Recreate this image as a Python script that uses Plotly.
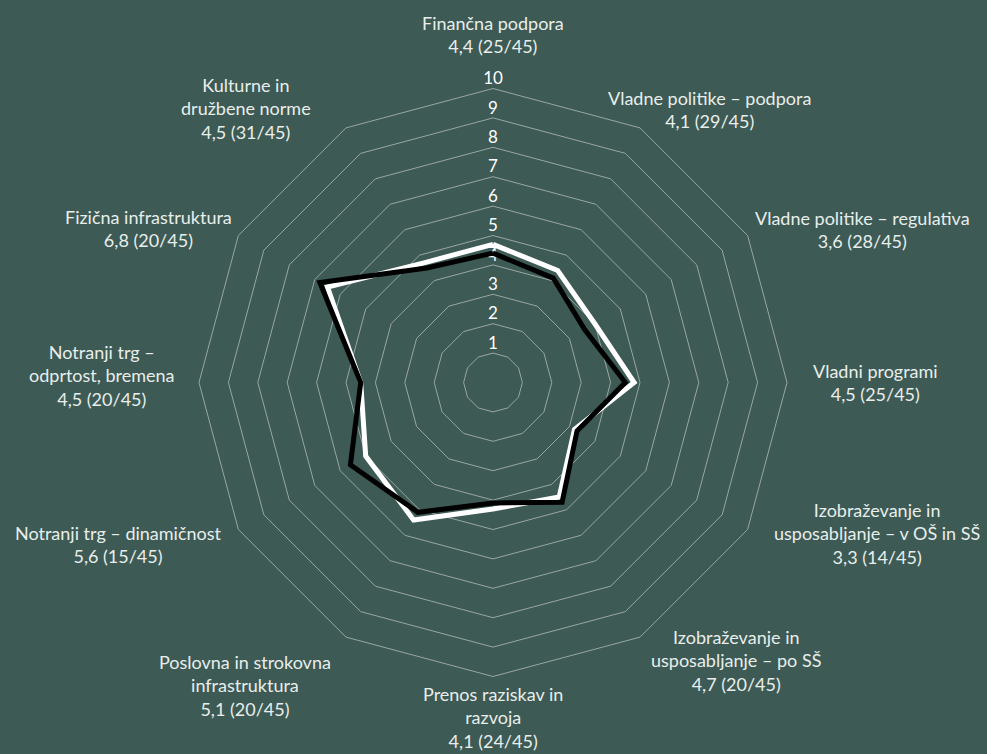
import math
import plotly.graph_objects as go

# ---- data ----
categories = [
    "Finančna podpora",
    "Vladne politike – podpora",
    "Vladne politike – regulativa",
    "Vladni programi",
    "Izobraževanje in<br>usposabljanje – v OŠ in SŠ",
    "Izobraževanje in<br>usposabljanje – po SŠ",
    "Prenos raziskav in<br>razvoja",
    "Poslovna in strokovna<br>infrastruktura",
    "Notranji trg – dinamičnost",
    "Notranji trg –<br>odprtost, bremena",
    "Fizična infrastruktura",
    "Kulturne in<br>družbene norme",
]
values_current = [4.4, 4.1, 3.6, 4.5, 3.3, 4.7, 4.1, 5.1, 5.6, 4.5, 6.8, 4.5]
values_previous = [4.7, 4.4, 4.0, 4.8, 3.2, 4.5, 4.3, 5.4, 5.0, 4.5, 6.5, 4.7]
ranks = [25, 29, 28, 25, 14, 20, 24, 20, 15, 20, 20, 31]
total = 45
tick_values = [1, 2, 3, 4, 5, 6, 7, 8, 9, 10]

# label placement: polar coordinates (in radial-axis units / degrees) of label block centres
label_r = [11.82, 11.87, 13.6, 13.0, 14.03, 12.57, 11.38, 13.32, 13.87, 13.3, 12.85, 12.56]
label_theta = [0, 38.4, 67.5, 90, 111.4, 138.9, 180, 219.2, 246.6, 271, 294.1, 318]

W, H = 987, 754
CX, CY, RADIUS = 493, 382.5, 294  # polar centre and outer radius in px
RMAX = 10

BG = "#3d5a55"
GRID = "#9aa6a2"
FONT = "Lato"
LABEL_COLOR = "#e8eeeb"

cat_keys = [c.replace("<br>", " ") for c in categories]
label_text = [
    f"{c}<br>{str(v).replace('.', ',')} ({r}/{total})"
    for c, v, r in zip(categories, values_current, ranks)
]

fig = go.Figure()

# radial tick numbers along the top axis
fig.add_trace(go.Scatterpolar(
    r=tick_values,
    theta=[cat_keys[0]] * len(tick_values),
    mode="text",
    text=[str(t) for t in tick_values],
    textposition="top center",
    textfont=dict(family=FONT, size=17, color="#ffffff"),
    cliponaxis=False,
    hoverinfo="skip",
    showlegend=False,
))

fig.add_trace(go.Scatterpolar(
    r=values_previous + values_previous[:1],
    theta=cat_keys + cat_keys[:1],
    mode="lines",
    line=dict(color="#ffffff", width=5),
    showlegend=False,
))
fig.add_trace(go.Scatterpolar(
    r=values_current + values_current[:1],
    theta=cat_keys + cat_keys[:1],
    mode="lines",
    line=dict(color="#000000", width=5),
    showlegend=False,
))

# category labels as annotations placed from polar geometry
annotations = []
for txt, rr, th in zip(label_text, label_r, label_theta):
    rad = math.radians(th)
    px = CX + rr / RMAX * RADIUS * math.sin(rad)
    py = CY - rr / RMAX * RADIUS * math.cos(rad)
    annotations.append(dict(
        x=px / W, y=1 - py / H, xref="paper", yref="paper",
        text=txt, showarrow=False, xanchor="center", yanchor="middle",
        align="center", font=dict(family=FONT, size=18, color=LABEL_COLOR),
    ))

dom = dict(x=[(CX - RADIUS) / W, (CX + RADIUS) / W],
           y=[1 - (CY + RADIUS) / H, 1 - (CY - RADIUS) / H])

fig.update_layout(
    width=W,
    height=H,
    margin=dict(l=0, r=0, t=0, b=0),
    paper_bgcolor=BG,
    plot_bgcolor=BG,
    font=dict(family=FONT, color=LABEL_COLOR),
    annotations=annotations,
    polar=dict(
        domain=dom,
        bgcolor=BG,
        gridshape="linear",
        radialaxis=dict(
            range=[0, RMAX], tickvals=tick_values, showticklabels=False,
            ticks="", showline=False, gridcolor=GRID, gridwidth=1,
        ),
        angularaxis=dict(
            type="category", categoryarray=cat_keys, categoryorder="array",
            rotation=90, direction="clockwise",
            showgrid=False, showticklabels=False, ticks="",
            showline=True, linecolor=GRID, linewidth=1,
        ),
    ),
)

fig.write_html("out.html", config={"displayModeBar": False},
               post_script="document.body.style.margin='0';")
